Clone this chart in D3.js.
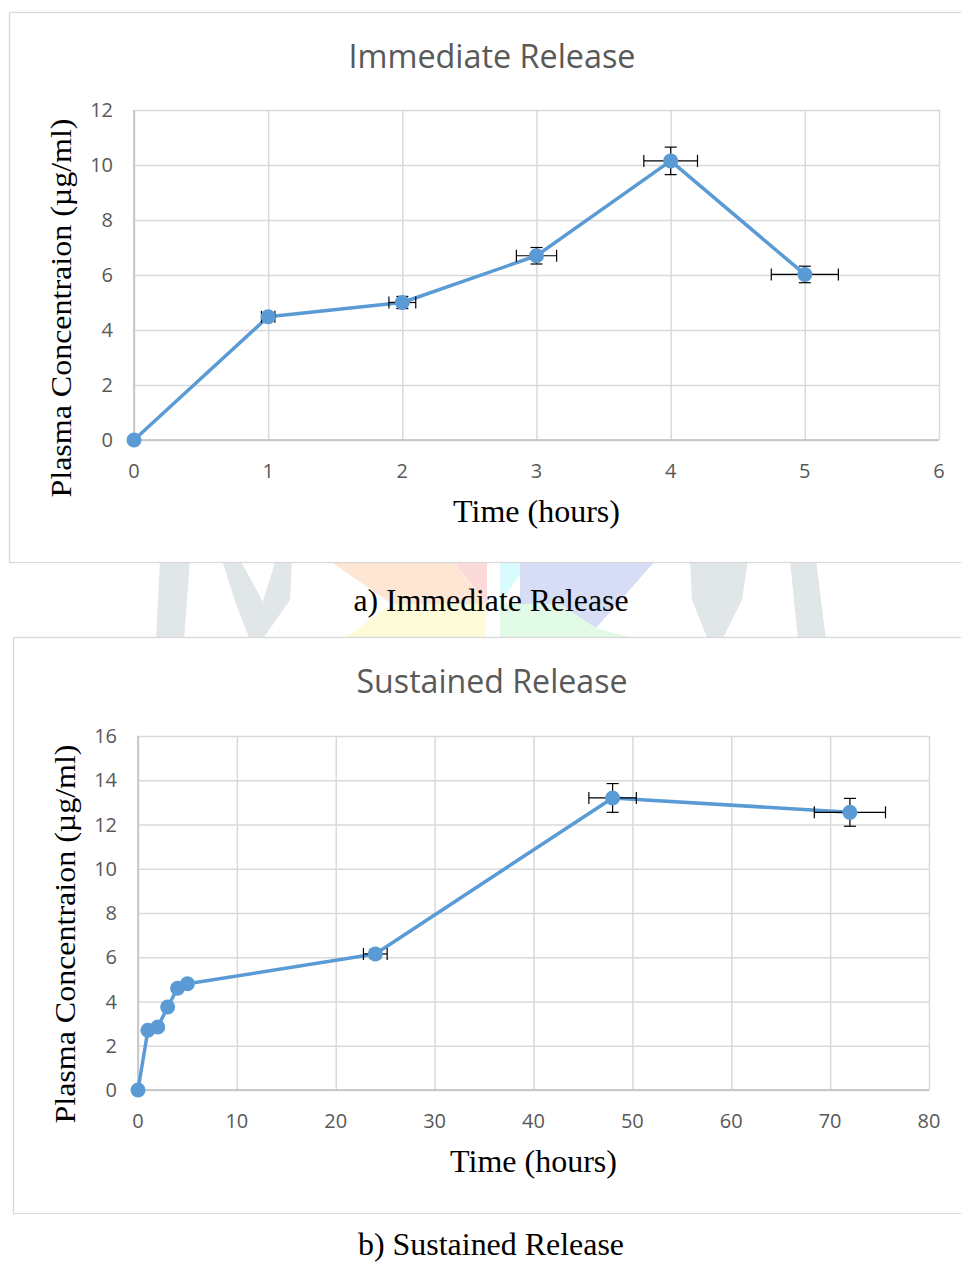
<!DOCTYPE html>
<html>
<head>
<meta charset="utf-8">
<script src="https://cdn.jsdelivr.net/npm/d3@7"></script>
<style>
  body { margin: 0; background: #fff; }
  svg { display: block; }
</style>
</head>
<body>
<div id="chart"></div>
<script>
// Immediate release data
const irTime = [0, 1, 2, 3, 4, 5]
const irConc = [0, 4.48, 5.0, 6.7, 10.15, 6.02]
const irConcErr = [0, 0.1, 0.22, 0.3, 0.5, 0.3]
const irTimeErr = [0, 0.05, 0.1, 0.15, 0.2, 0.25]
const irXTicks = [0, 1, 2, 3, 4, 5, 6]
const irYTicks = [0, 2, 4, 6, 8, 10, 12]

// Sustained release data
const srTime = [0, 1, 2, 3, 4, 5, 24, 48, 72]
const srConc = [0, 2.7, 2.85, 3.75, 4.6, 4.8, 6.15, 13.2, 12.55]
const srConcErr = [0, 0.1, 0.1, 0.1, 0.15, 0.15, 0.2, 0.65, 0.63]
const srTimeErr = [0, 0.2, 0.2, 0.2, 0.3, 0.3, 1.2, 2.4, 3.6]
const srXTicks = [0, 10, 20, 30, 40, 50, 60, 70, 80]
const srYTicks = [0, 2, 4, 6, 8, 10, 12, 14, 16]

const width = 961
const height = 1262

const svg = d3.select('#chart')
  .append('svg')
  .attr('width', width)
  .attr('height', height)

// faint watermark behind the two charts
const wm = svg.append('g').attr('class', 'watermark')
const wmShapes = [
  { fill: '#fde6d3', pts: [[328, 560], [452, 560], [486, 604], [392, 604]] },
  { fill: '#fddada', pts: [[452, 560], [487, 560], [487, 604]] },
  { fill: '#fefbd8', pts: [[392, 604], [486, 604], [486, 640], [342, 640]] },
  { fill: '#dafbfd', pts: [[500, 560], [530, 560], [500, 604]] },
  { fill: '#d7ddf5', pts: [[520, 560], [656, 560], [596, 628], [520, 604]] },
  { fill: '#e2fbe7', pts: [[500, 604], [560, 604], [596, 628], [640, 640], [500, 640]] },
  { fill: '#e1e6e9', pts: [[160, 560], [190, 560], [184, 640], [156, 640]] },
  { fill: '#e1e6e9', pts: [[222, 560], [240, 560], [262, 600], [262, 640], [250, 640], [236, 604]] },
  { fill: '#e1e6e9', pts: [[276, 560], [292, 560], [290, 600], [262, 640], [262, 604]] },
  { fill: '#e1e6e9', pts: [[690, 560], [748, 560], [742, 600], [722, 640], [708, 640], [692, 600]] },
  { fill: '#e1e6e9', pts: [[790, 560], [816, 560], [826, 640], [798, 640]] }
]
wmShapes.forEach(s => {
  wm.append('polygon')
    .attr('points', s.pts.map(p => p.join(',')).join(' '))
    .attr('fill', s.fill)
})

function drawChart(cfg) {
  const g = svg.append('g')

  g.append('rect')
    .attr('x', cfg.frame.x + 0.5)
    .attr('y', cfg.frame.y + 0.5)
    .attr('width', cfg.frame.w)
    .attr('height', cfg.frame.h)
    .attr('fill', '#fff')
    .attr('stroke', '#d9d9d9')
    .attr('stroke-width', 1.3)

  const x = d3.scaleLinear().domain(cfg.xDomain).range([cfg.left, cfg.right])
  const y = d3.scaleLinear().domain(cfg.yDomain).range([cfg.bottom, cfg.top])

  // gridlines
  g.append('g')
    .attr('transform', `translate(0,${cfg.bottom})`)
    .call(d3.axisBottom(x).tickValues(cfg.xTicks).tickSize(-(cfg.bottom - cfg.top)).tickFormat(''))
    .call(a => a.select('.domain').remove())
    .call(a => a.selectAll('line').attr('stroke', '#d9d9d9').attr('stroke-width', 1.5))
  g.append('g')
    .attr('transform', `translate(${cfg.left},0)`)
    .call(d3.axisLeft(y).tickValues(cfg.yTicks).tickSize(-(cfg.right - cfg.left)).tickFormat(''))
    .call(a => a.select('.domain').remove())
    .call(a => a.selectAll('line').attr('stroke', '#d9d9d9').attr('stroke-width', 1.5))

  // axis lines
  g.append('line')
    .attr('x1', cfg.left).attr('x2', cfg.right)
    .attr('y1', cfg.bottom).attr('y2', cfg.bottom)
    .attr('stroke', '#bfbfbf').attr('stroke-width', 1.5)
  g.append('line')
    .attr('x1', cfg.left).attr('x2', cfg.left)
    .attr('y1', cfg.top).attr('y2', cfg.bottom)
    .attr('stroke', '#bfbfbf').attr('stroke-width', 1.5)

  // tick labels
  const tickStyle = "font-family: 'Open Sans', sans-serif; font-size: 20px; fill: #595959"
  g.append('g').selectAll('text')
    .data(cfg.xTicks)
    .join('text')
    .attr('x', d => x(d))
    .attr('y', cfg.bottom + 38)
    .attr('text-anchor', 'middle')
    .attr('style', tickStyle)
    .text(d => d)
  g.append('g').selectAll('text')
    .data(cfg.yTicks)
    .join('text')
    .attr('x', cfg.left - 21)
    .attr('y', d => y(d) + 7)
    .attr('text-anchor', 'end')
    .attr('style', tickStyle)
    .text(d => d)

  // chart title
  g.append('text')
    .attr('x', cfg.titleX)
    .attr('y', cfg.frame.y + 56)
    .attr('text-anchor', 'middle')
    .attr('textLength', cfg.titleLen)
    .attr('lengthAdjust', 'spacingAndGlyphs')
    .attr('style', "font-family: 'Open Sans', sans-serif; font-size: 32px; fill: #595959")
    .text(cfg.title)

  // axis titles
  const serif = "font-family: 'Liberation Serif', 'Times New Roman', serif; fill: #000"
  g.append('text')
    .attr('x', (cfg.left + cfg.right) / 2)
    .attr('y', cfg.bottom + 82)
    .attr('text-anchor', 'middle')
    .attr('style', serif + '; font-size: 32px')
    .text('Time (hours)')
  g.append('text')
    .attr('transform', `translate(${cfg.yLabelX},${cfg.yLabelY}) rotate(-90)`)
    .attr('text-anchor', 'middle')
    .attr('textLength', 379)
    .attr('lengthAdjust', 'spacingAndGlyphs')
    .attr('style', serif + '; font-size: 30px')
    .text('Plasma Concentraion (µg/ml)')

  const pts = cfg.time.map((t, i) => ({
    t, c: cfg.conc[i], ce: cfg.concErr[i], te: cfg.timeErr[i]
  }))

  // series line
  g.append('path')
    .datum(pts)
    .attr('fill', 'none')
    .attr('stroke', '#5b9bd5')
    .attr('stroke-width', 3.5)
    .attr('stroke-linejoin', 'round')
    .attr('d', d3.line().x(d => x(d.t)).y(d => y(d.c)))

  // error bars
  const cap = 6
  const eb = g.append('g')
    .attr('stroke', '#000')
    .attr('stroke-width', 1.2)
  pts.filter(d => d.ce > 0 || d.te > 0).forEach(d => {
    const cx = x(d.t), cy = y(d.c)
    const y0 = y(d.c - d.ce), y1 = y(d.c + d.ce)
    const x0 = x(d.t - d.te), x1 = x(d.t + d.te)
    eb.append('line').attr('x1', cx).attr('x2', cx).attr('y1', y0).attr('y2', y1)
    eb.append('line').attr('x1', cx - cap).attr('x2', cx + cap).attr('y1', y0).attr('y2', y0)
    eb.append('line').attr('x1', cx - cap).attr('x2', cx + cap).attr('y1', y1).attr('y2', y1)
    eb.append('line').attr('x1', x0).attr('x2', x1).attr('y1', cy).attr('y2', cy)
    eb.append('line').attr('x1', x0).attr('x2', x0).attr('y1', cy - cap).attr('y2', cy + cap)
    eb.append('line').attr('x1', x1).attr('x2', x1).attr('y1', cy - cap).attr('y2', cy + cap)
  })

  // markers
  g.append('g').selectAll('circle')
    .data(pts)
    .join('circle')
    .attr('cx', d => x(d.t))
    .attr('cy', d => y(d.c))
    .attr('r', 7.5)
    .attr('fill', '#5b9bd5')

  // caption under the chart
  g.append('text')
    .attr('x', 491)
    .attr('y', cfg.captionY)
    .attr('text-anchor', 'middle')
    .attr('textLength', cfg.captionLen)
    .attr('lengthAdjust', 'spacingAndGlyphs')
    .attr('style', serif + '; font-size: 31px')
    .text(cfg.caption)
}

drawChart({
  frame: { x: 9, y: 12, w: 960, h: 550 },
  left: 134, right: 939, top: 110, bottom: 440,
  xDomain: [0, 6], yDomain: [0, 12],
  xTicks: irXTicks, yTicks: irYTicks,
  time: irTime, conc: irConc, concErr: irConcErr, timeErr: irTimeErr,
  title: 'Immediate Release', titleX: 492, titleLen: 287,
  yLabelX: 71, yLabelY: 308,
  caption: 'a) Immediate Release', captionY: 611, captionLen: 275
})

drawChart({
  frame: { x: 13, y: 637, w: 960, h: 576 },
  left: 138, right: 929, top: 736, bottom: 1090,
  xDomain: [0, 80], yDomain: [0, 16],
  xTicks: srXTicks, yTicks: srYTicks,
  time: srTime, conc: srConc, concErr: srConcErr, timeErr: srTimeErr,
  title: 'Sustained Release', titleX: 492, titleLen: 271,
  yLabelX: 75, yLabelY: 934,
  caption: 'b) Sustained Release', captionY: 1255, captionLen: 266
})
</script>
</body>
</html>
